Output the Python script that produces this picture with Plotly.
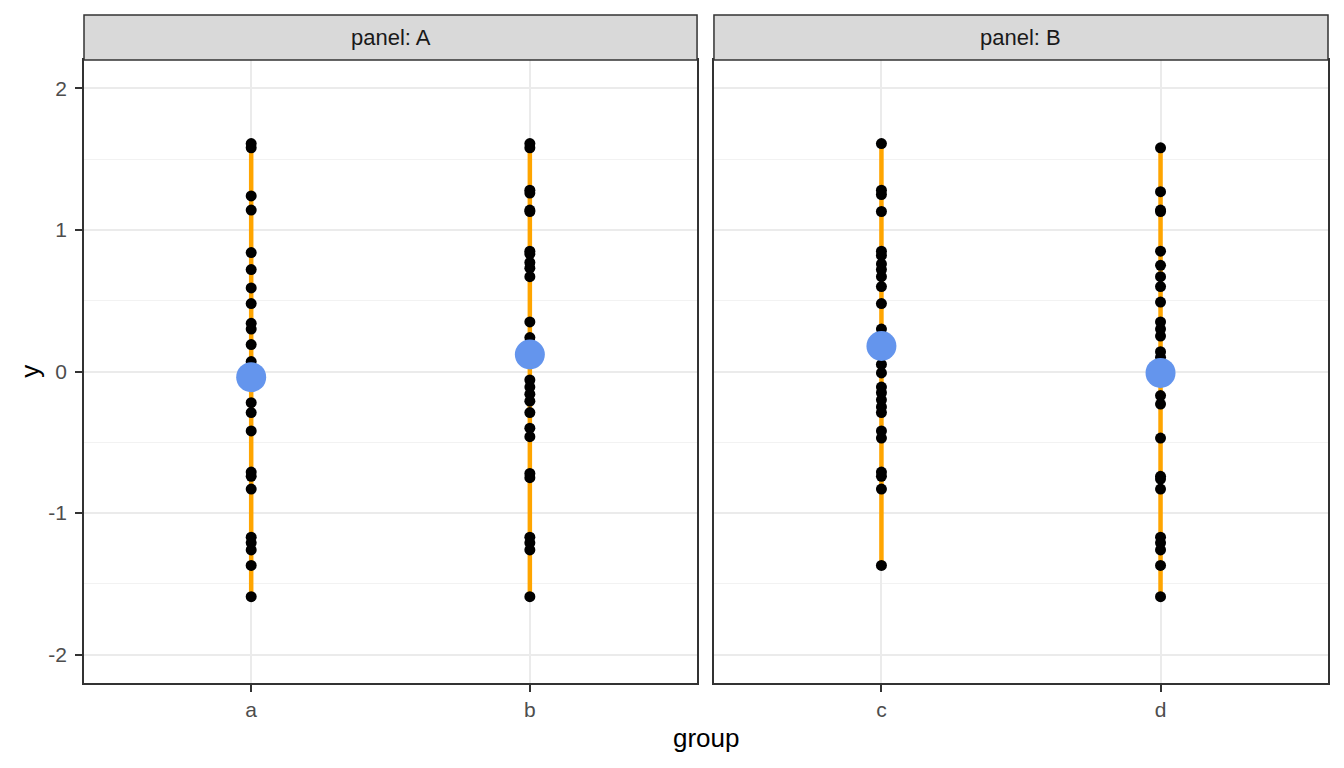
import plotly.graph_objects as go
from plotly.subplots import make_subplots

# values
groups_a = ["a", "b"]
groups_b = ["c", "d"]

y_a = [1.61, 1.58, 1.24, 1.14, 0.84, 0.72, 0.59, 0.48, 0.34, 0.30, 0.19, 0.07,
       -0.22, -0.29, -0.42, -0.71, -0.74, -0.83, -1.17, -1.21, -1.26, -1.37, -1.59]
y_b = [1.61, 1.58, 1.28, 1.26, 1.14, 1.13, 0.85, 0.83, 0.77, 0.73, 0.67, 0.35, 0.24,
       -0.06, -0.11, -0.16, -0.21, -0.29, -0.40, -0.46, -0.72, -0.75, -1.17, -1.21, -1.26, -1.59]
y_c = [1.61, 1.28, 1.25, 1.13, 0.85, 0.82, 0.76, 0.72, 0.67, 0.60, 0.48, 0.30, 0.05,
       -0.01, -0.11, -0.15, -0.20, -0.25, -0.29, -0.42, -0.47, -0.71, -0.74, -0.83, -1.37]
y_d = [1.58, 1.27, 1.14, 1.13, 0.85, 0.75, 0.67, 0.60, 0.49, 0.35, 0.30, 0.25, 0.14, 0.10,
       -0.17, -0.23, -0.47, -0.74, -0.76, -0.83, -1.17, -1.21, -1.26, -1.37, -1.59]

means_a = [-0.04, 0.12]
means_b = [0.18, -0.01]

panels = ["A", "B"]
y_ticks = [-2, -1, 0, 1, 2]
y_ticklabels = ["-2", "-1", "0", "1", "2"]
y_minor = [-1.5, -0.5, 0.5, 1.5]

fig = make_subplots(rows=1, cols=2, shared_yaxes=True)
fig.update_layout(xaxis=dict(domain=[0, 0.4928]), xaxis2=dict(domain=[0.5064, 1]))

panel_data = [(groups_a, [y_a, y_b], means_a), (groups_b, [y_c, y_d], means_b)]

for col, (groups, ys, means) in enumerate(panel_data, start=1):
    for i, vals in enumerate(ys):
        # range line, then raw points
        fig.add_trace(go.Scatter(x=[i, i], y=[min(vals), max(vals)], mode="lines",
                                 line=dict(color="#FFA500", width=4.5)),
                      row=1, col=col)
        fig.add_trace(go.Scatter(x=[i] * len(vals), y=vals, mode="markers",
                                 marker=dict(color="black", size=11)),
                      row=1, col=col)
    # group means on top
    fig.add_trace(go.Scatter(x=list(range(len(groups))), y=means, mode="markers",
                             marker=dict(color="#6495ED", size=30)),
                  row=1, col=col)

    xname = "x" if col == 1 else "x2"
    yname = "y" if col == 1 else "y2"
    fig.update_xaxes(range=[-0.6, 1.6], tickvals=list(range(len(groups))), ticktext=groups,
                     showgrid=True, gridcolor="#EBEBEB", gridwidth=2, zeroline=False,
                     showline=True, mirror=True, linecolor="#333333", linewidth=1.5,
                     ticks="outside", ticklen=7, tickwidth=2, tickcolor="#333333",
                     tickfont=dict(size=21, color="#4D4D4D"), row=1, col=col)
    fig.update_yaxes(range=[-2.2, 2.2], tickvals=y_ticks, ticktext=y_ticklabels,
                     showgrid=True, gridcolor="#EBEBEB", gridwidth=2,
                     minor=dict(tickvals=y_minor, showgrid=True, gridcolor="#F2F2F2", gridwidth=1),
                     zeroline=False, showline=True, mirror=True, linecolor="#333333", linewidth=1.5,
                     row=1, col=col)

    # facet strip
    fig.add_shape(type="rect", xref=xname + " domain", yref=yname + " domain",
                  x0=0, x1=1, y0=1, y1=1.0722, fillcolor="#D9D9D9",
                  line=dict(color="#333333", width=1.5), layer="above")
    fig.add_annotation(text="panel: " + panels[col - 1], xref=xname + " domain", yref=yname + " domain",
                       x=0.5, y=1.0361, yanchor="middle", showarrow=False,
                       font=dict(size=22, color="#1A1A1A"))

fig.update_yaxes(ticks="outside", ticklen=7, tickwidth=2, tickcolor="#333333", ticklabelstandoff=4,
                 tickfont=dict(size=21, color="#4D4D4D"), row=1, col=1)
fig.update_yaxes(showticklabels=False, ticks="", row=1, col=2)

fig.add_annotation(text="group", xref="paper", yref="paper", x=0.5, y=-0.0883, yanchor="middle",
                   showarrow=False, font=dict(size=26, color="black"))
fig.add_annotation(text="y", xref="paper", yref="paper", x=-0.044, y=0.5, textangle=-90,
                   xanchor="center", showarrow=False, font=dict(size=26, color="black"))

# the page has an 8px body margin, so the figure is 8px smaller and shifted
fig.update_layout(
    width=1336, height=760,
    margin=dict(l=76, r=16, t=52, b=85),
    plot_bgcolor="white", paper_bgcolor="white",
    showlegend=False, hovermode=False,
    font=dict(family="Liberation Sans, Arial, sans-serif"),
)

fig.write_html("out.html")
